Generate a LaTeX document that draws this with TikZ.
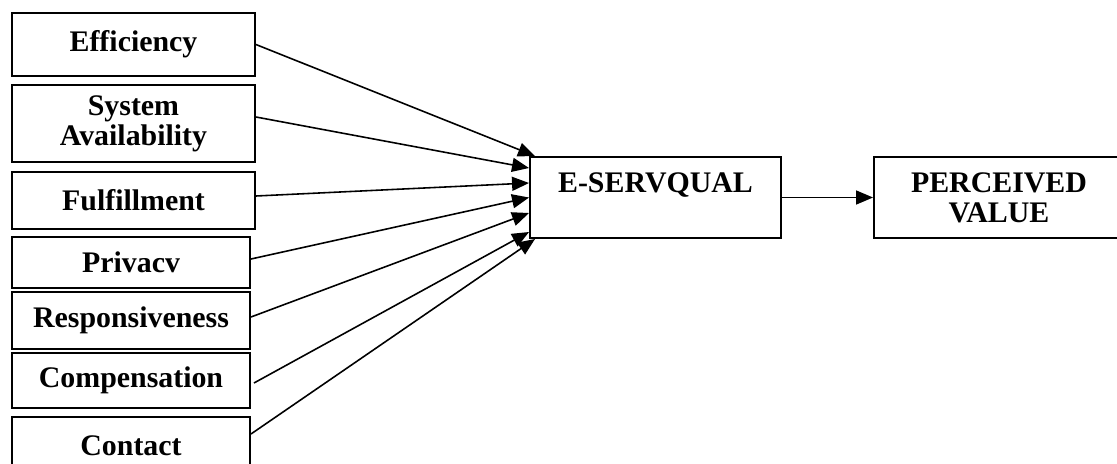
\documentclass[tikz,border=0pt]{standalone}
\usepackage{fontspec}
\setmainfont{Liberation Serif}
\usepackage{tikz}
\usetikzlibrary{arrows.meta}

\begin{document}
\begin{tikzpicture}[
    dimbox/.style={shape=rectangle, draw=black, line width=1.1pt, inner sep=0pt,
        align=center, font=\fontsize{17}{17}\selectfont\bfseries},
    leftbox/.style={dimbox, minimum width=4.86cm},
    smallleft/.style={dimbox, minimum width=4.76cm},
    bigbox/.style={dimbox, minimum width=5.02cm, minimum height=1.62cm},
    >={Triangle[length=0.34cm,width=0.28cm]},
]
\useasboundingbox (0, 0) rectangle (22.34, -9.26);

% dimensions
\node[leftbox, minimum height=1.26cm] (eff) at (2.67, -0.89) {Efficiency};
\node[leftbox, minimum height=1.54cm] (sysav) at (2.67, -2.47) {System\\Availability};
\node[leftbox, minimum height=1.14cm] (fulf) at (2.67, -4.01) {Fulfillment};
\node[smallleft, minimum height=1.02cm] (priv) at (2.62, -5.25) {Privacv};
\node[smallleft, minimum height=1.14cm] (resp) at (2.62, -6.41) {Responsiveness};
\node[smallleft, minimum height=1.10cm] (comp) at (2.62, -7.61) {Compensation};
\node[smallleft, minimum height=1.16cm] (cont) at (2.62, -8.92) {Contact};

% constructs
\node[bigbox] (eserv) at (13.11, -3.95) {E-SERVQUAL\\\phantom{E}};
\node[bigbox, minimum width=5.0cm] (pv) at (19.98, -3.95) {PERCEIVED\\VALUE};

\path[->, line width=0.9pt]
    (eff.east) edge ([xshift=0.12cm]eserv.north west)
    ([yshift=0.13cm]sysav.east) edge ([yshift=0.59cm]eserv.west)
    ([yshift=0.09cm]fulf.east) edge ([yshift=0.29cm]eserv.west)
    ([yshift=0.07cm]priv.east) edge (eserv.west)
    ([yshift=0.07cm]resp.east) edge ([yshift=-0.31cm]eserv.west)
    ([xshift=0.06cm, yshift=-0.05cm]comp.east) edge ([yshift=-0.69cm]eserv.west)
    ([yshift=0.24cm]cont.east) edge ([xshift=0.12cm]eserv.south west)
    (eserv) edge (pv)
;
\end{tikzpicture}
\end{document}
